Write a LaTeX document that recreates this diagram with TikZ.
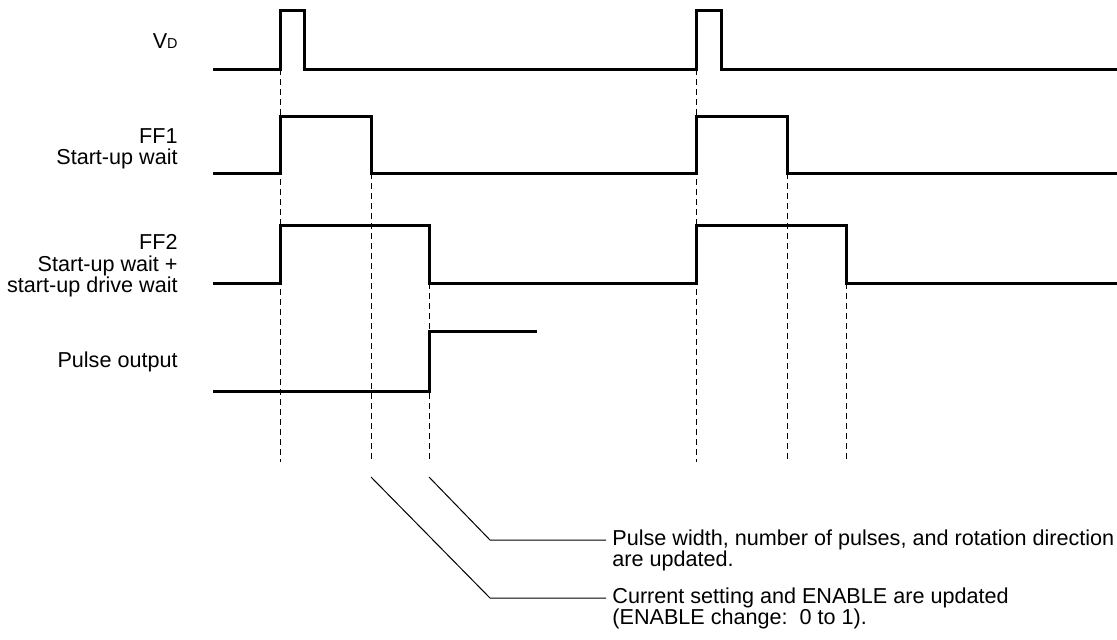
\documentclass[tikz,border=0pt]{standalone}
\usepackage{fontspec}
\setmainfont{Liberation Sans}
\usepackage{tikz}

\tikzset{
	signal/.style={line width=1.5pt, line join=miter},
	guide/.style={line width=0.5pt, dash pattern=on 3pt off 2pt},
	leader/.style={line width=0.5pt},
	sig label/.style={anchor=east, align=right, inner sep=0pt, font=\fontsize{10.8}{10.8}\selectfont},
	note/.style={anchor=west, align=left, inner sep=3pt, font=\fontsize{10.8}{10.5}\selectfont},
}

\begin{document}
\begin{tikzpicture}[x=0.5pt, y=-0.5pt]
		\useasboundingbox (0, 0) rectangle (1117, 639);
		% Waveforms:
		\draw[signal] (213, 69) -- (280, 69) -- (280, 10) -- (304, 10) -- (304, 69) -- (696, 69) -- (696, 10) -- (721, 10) -- (721, 69) -- (1117, 69);
		\draw[signal] (213, 173) -- (280, 173) -- (280, 116) -- (371, 116) -- (371, 173) -- (696, 173) -- (696, 116) -- (787, 116) -- (787, 173) -- (1117, 173);
		\draw[signal] (213, 283) -- (280, 283) -- (280, 225) -- (429, 225) -- (429, 283) -- (696, 283) -- (696, 225) -- (846, 225) -- (846, 283) -- (1117, 283);
		\draw[signal] (213, 391) -- (429, 391) -- (429, 331) -- (537, 331);
		% Dashed timing guides:
		\foreach \x/\y in {280/69, 371/173, 429/283, 696/69, 787/173, 846/283}
			\draw[guide] (\x, \y) -- (\x, 462);
		% Signal names:
		\node[sig label] (VD) at (178, 41) {V{\fontsize{7.2}{7.2}\selectfont D}};
		\node[sig label] (FF1) at (178, 149) {FF1\\Start-up wait};
		\node[sig label] (FF2) at (178, 266) {FF2\\Start-up wait +\\start-up drive wait};
		\node[sig label] (PO) at (178, 362) {Pulse output};
		% Notes and leaders:
		\node[note] (upd1) at (606, 550) {Pulse width, number of pulses, and rotation direction\\are updated.};
		\node[note] (upd2) at (606, 608) {Current setting and ENABLE are updated\\(ENABLE change:~~0 to 1).};
		\coordinate (lead1) at (429, 477);
		\coordinate (bend1) at (490, 540);
		\coordinate (lead2) at (371, 477);
		\coordinate (bend2) at (490, 598);
		\draw[leader] (lead1) -- (bend1) -- (bend1 -| upd1.west);
		\draw[leader] (lead2) -- (bend2) -- (bend2 -| upd2.west);
	\end{tikzpicture}
\end{document}
